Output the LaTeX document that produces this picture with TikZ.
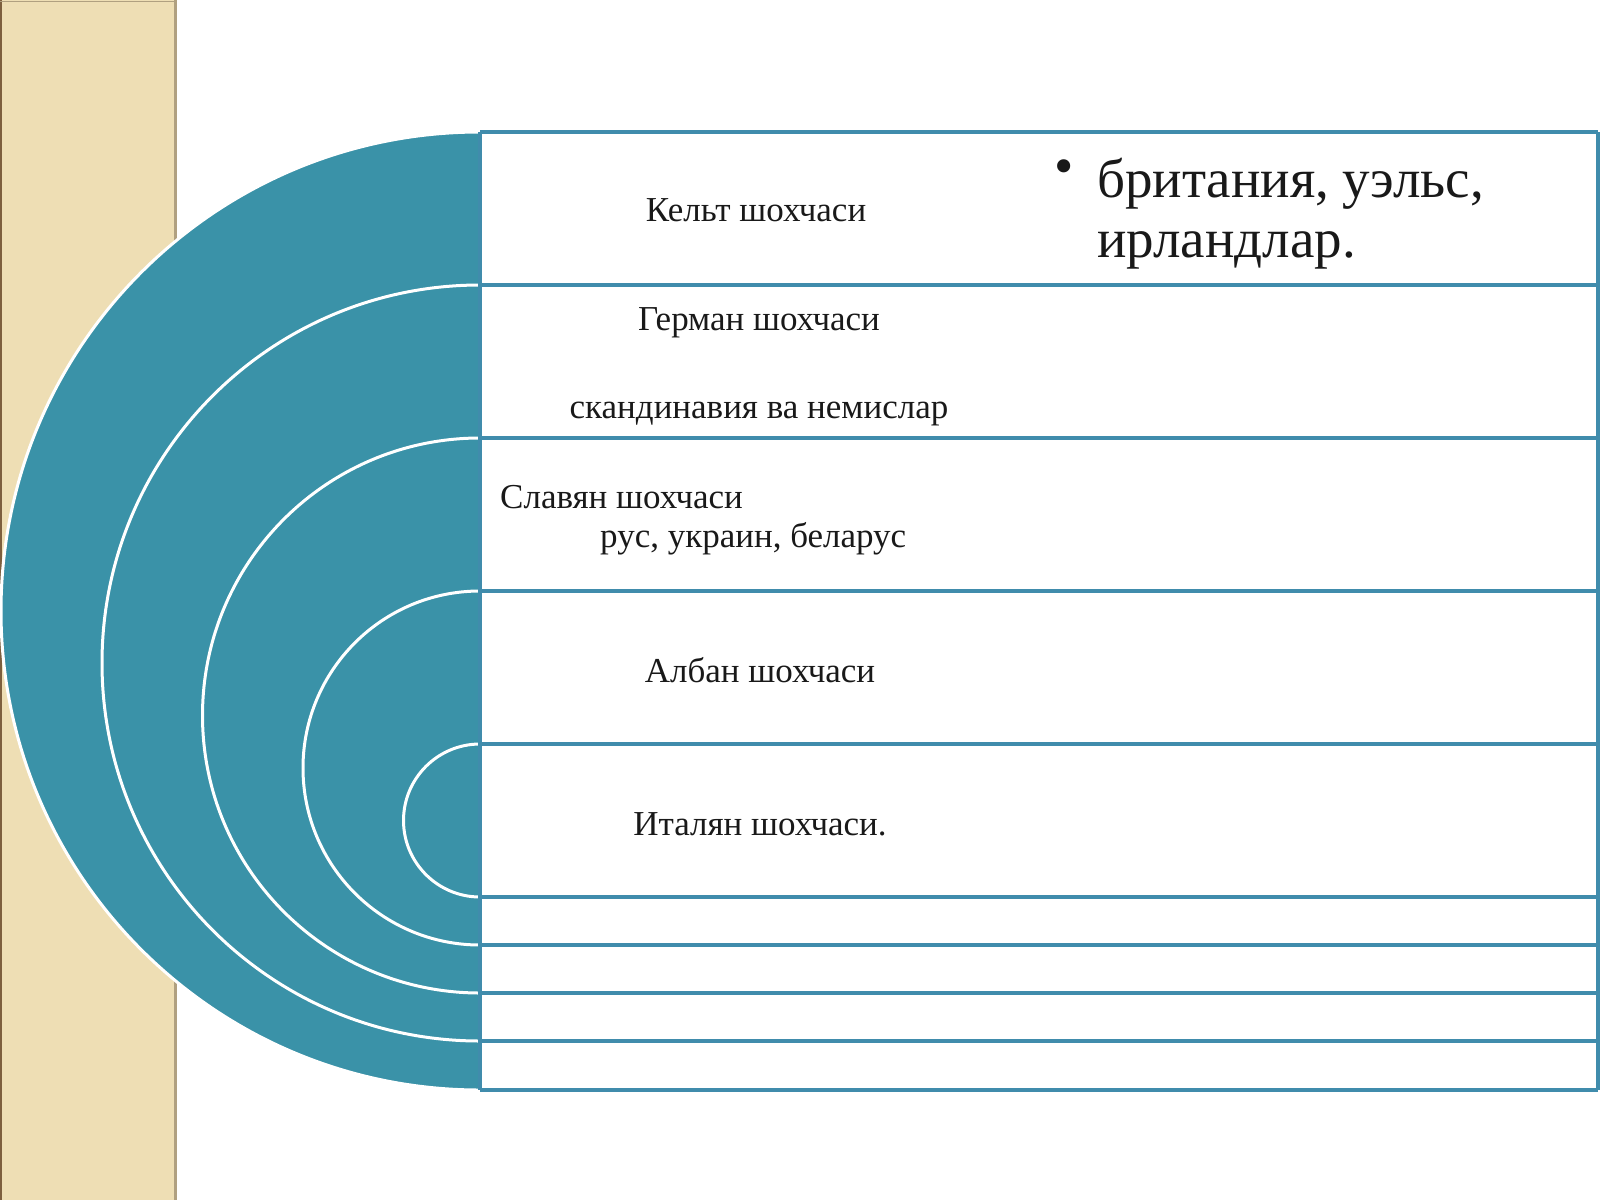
\documentclass[tikz,border=0pt]{standalone}
\usepackage{fontspec}
\setmainfont{Liberation Serif}
\usepackage{tikz}
\usetikzlibrary{positioning}
\definecolor{brbeige}{RGB}{238,222,180}
\definecolor{brbrown}{RGB}{125,95,62}
\definecolor{brshadow}{RGB}{176,160,128}
\definecolor{brteal}{RGB}{58,146,168}
\definecolor{brline}{RGB}{64,140,172}
\definecolor{brtext}{RGB}{25,25,25}
\tikzstyle{halfdisc} = [fill=brteal, draw=white, line width=3pt]
\tikzstyle{rowline} = [draw=brline, line width=3.5pt]
\tikzstyle{branch} = [font=\fontsize{35}{40}\selectfont, text=brtext, inner sep=0pt, anchor=base]
\tikzstyle{country} = [font=\fontsize{55}{60}\selectfont, text=brtext, inner sep=0pt, align=left]

\begin{document}
\begin{tikzpicture}[x=1pt, y=-1pt]
\useasboundingbox (0,0) rectangle (1600,1200);
% Beige side strip
\fill[brbeige] (0,0) rectangle (176,1200);
\draw[brshadow, line width=3pt] (175,0) -- (175,1200);
\draw[brbrown, line width=2pt] (1,0) -- (1,1200);
\draw[brshadow, line width=1.5pt] (0,1.5) -- (176,1.5);

% Nested half discs
\foreach \top/\r in {132/479, 285/378, 438/277.5, 591/177, 744/76.5}
  \draw[halfdisc] (480,\top) arc[start angle=90, end angle=270, radius=\r pt] -- cycle;

% Rows
\foreach \y in {132,285,438,591,744,897,945,993,1041,1090}
  \draw[rowline] (480,\y) -- (1598,\y);
\draw[rowline] (480,132) -- (480,1090);
\draw[rowline] (1598,132) -- (1598,1090);

% Labels
\node[branch] (kelt) at (756,221) {Кельт шохчаси};
\node[branch] (german) at (759,330) {Герман шохчаси};
\node[branch] (germanlist) at (759,418) {скандинавия ва немислар};
\node[branch, anchor=base west] (slavyan) at (500,508) {Славян шохчаси};
\node[branch, anchor=base west] (slavyanlist) at (600,547) {рус, украин, беларус};
\node[branch] (alban) at (760,682) {Албан шохчаси};
\node[branch] (italyan) at (760,835) {Италян шохчаси.};

% Bullet text
\node[font=\fontsize{55}{60}\selectfont, text=brtext, inner sep=0pt] (keltbullet) at (1064,172) {•};
\node[country, anchor=base west] (keltlist) at (1097,257) {британия, уэльс,\\ирландлар.};
\end{tikzpicture}
\end{document}
